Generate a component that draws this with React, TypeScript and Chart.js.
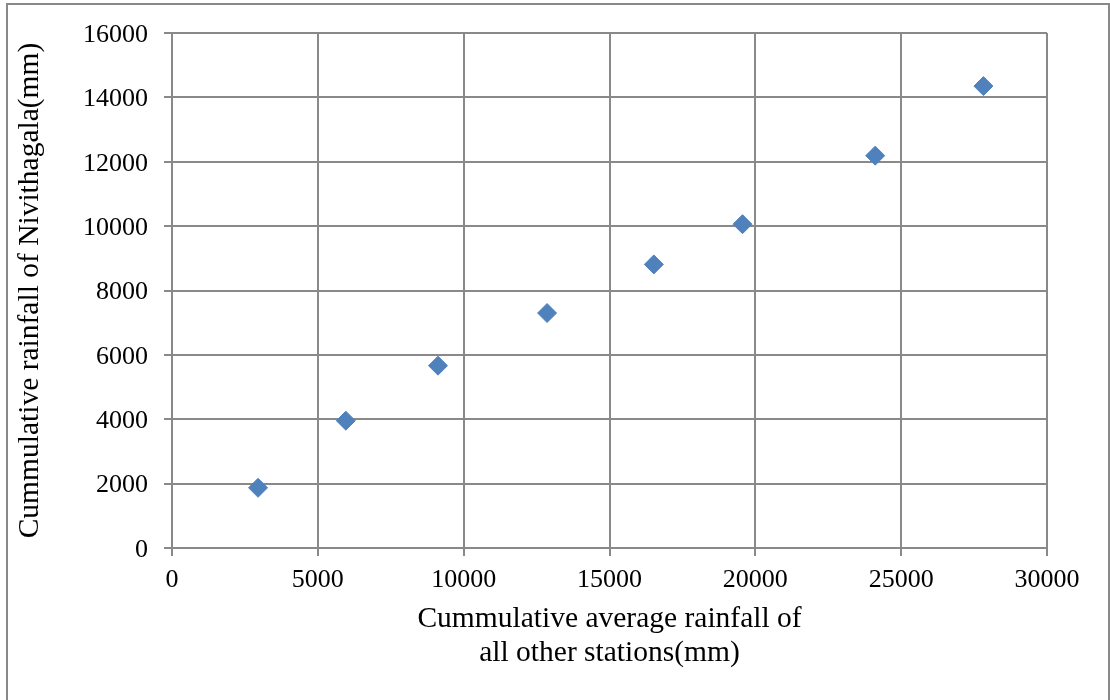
import React, { useEffect, useRef } from "react";
import { Chart, registerables } from "chart.js";

Chart.register(...registerables);

// Cumulative average rainfall of the other stations (mm)
const otherStationsCumulative = [2950, 5960, 9120, 12860, 16520, 19560, 24110, 27820];
// Cumulative rainfall recorded at Nivithagala (mm)
const nivithagalaCumulative = [1870, 3955, 5665, 7300, 8810, 10060, 12190, 14350];

const xTitle = ["Cummulative average rainfall of", "all other stations(mm)"];
const yTitle = "Cummulative rainfall of Nivithagala(mm)";

const SERIF = "'Liberation Serif', 'Times New Roman', serif";
const GRID = "#898989";
const MARKER = "#4F81BD";

export default function App() {
  const canvasRef = useRef<HTMLCanvasElement | null>(null);

  useEffect(() => {
    const canvas = canvasRef.current;
    if (!canvas) return;
    const points = otherStationsCumulative.map((x, i) => ({ x, y: nivithagalaCumulative[i] }));
    const chart = new Chart(canvas, {
      type: "scatter",
      data: {
        datasets: [
          {
            label: "Nivithagala",
            data: points,
            pointStyle: "rectRot",
            pointRadius: 9.5,
            pointBackgroundColor: MARKER,
            pointBorderColor: MARKER,
            pointBorderWidth: 1,
          },
        ],
      },
      options: {
        responsive: false,
        animation: false,
        devicePixelRatio: 1,
        layout: { padding: { left: 0, top: 33, right: 63, bottom: 0 } },
        plugins: { legend: { display: false }, tooltip: { enabled: false } },
        scales: {
          x: {
            type: "linear",
            min: 0,
            max: 30000,
            afterFit: (scale: any) => {
              scale.height = 152;
            },
            ticks: {
              stepSize: 5000,
              color: "#000",
              padding: 9,
              font: { family: SERIF, size: 26 },
              callback: (v: any) => String(v),
            },
            grid: { color: GRID, lineWidth: 2, tickLength: 8, drawTicks: true },
            border: { color: GRID, width: 2 },
            title: {
              display: true,
              text: xTitle,
              color: "#000",
              font: { family: SERIF, size: 29.5, lineHeight: 34 / 29.5 },
              padding: { top: 0, bottom: 30 },
            },
          },
          y: {
            type: "linear",
            min: 0,
            max: 16000,
            afterFit: (scale: any) => {
              scale.width = 172;
            },
            ticks: {
              stepSize: 2000,
              color: "#000",
              padding: 16,
              labelOffset: 2,
              font: { family: SERIF, size: 26 },
              callback: (v: any) => String(v),
            },
            grid: { color: GRID, lineWidth: 2, tickLength: 8, drawTicks: true },
            border: { color: GRID, width: 2 },
            title: {
              display: true,
              text: yTitle,
              color: "#000",
              font: { family: SERIF, size: 29.5, lineHeight: 34 / 29.5 },
              padding: { top: 13, bottom: 0 },
            },
          },
        },
      },
    });
    return () => chart.destroy();
  }, []);

  return (
    <div style={{ position: "absolute", left: 0, top: 0, width: 1110, height: 700, background: "#fff", overflow: "hidden" }}>
      <div
        style={{
          position: "absolute",
          left: 6,
          top: 3,
          width: 1104,
          height: 720,
          border: `2px solid ${GRID}`,
          boxSizing: "border-box",
        }}
      />
      <canvas
        ref={canvasRef}
        width={1110}
        height={700}
        style={{ position: "absolute", left: 0, top: 0, width: 1110, height: 700 }}
      />
    </div>
  );
}
